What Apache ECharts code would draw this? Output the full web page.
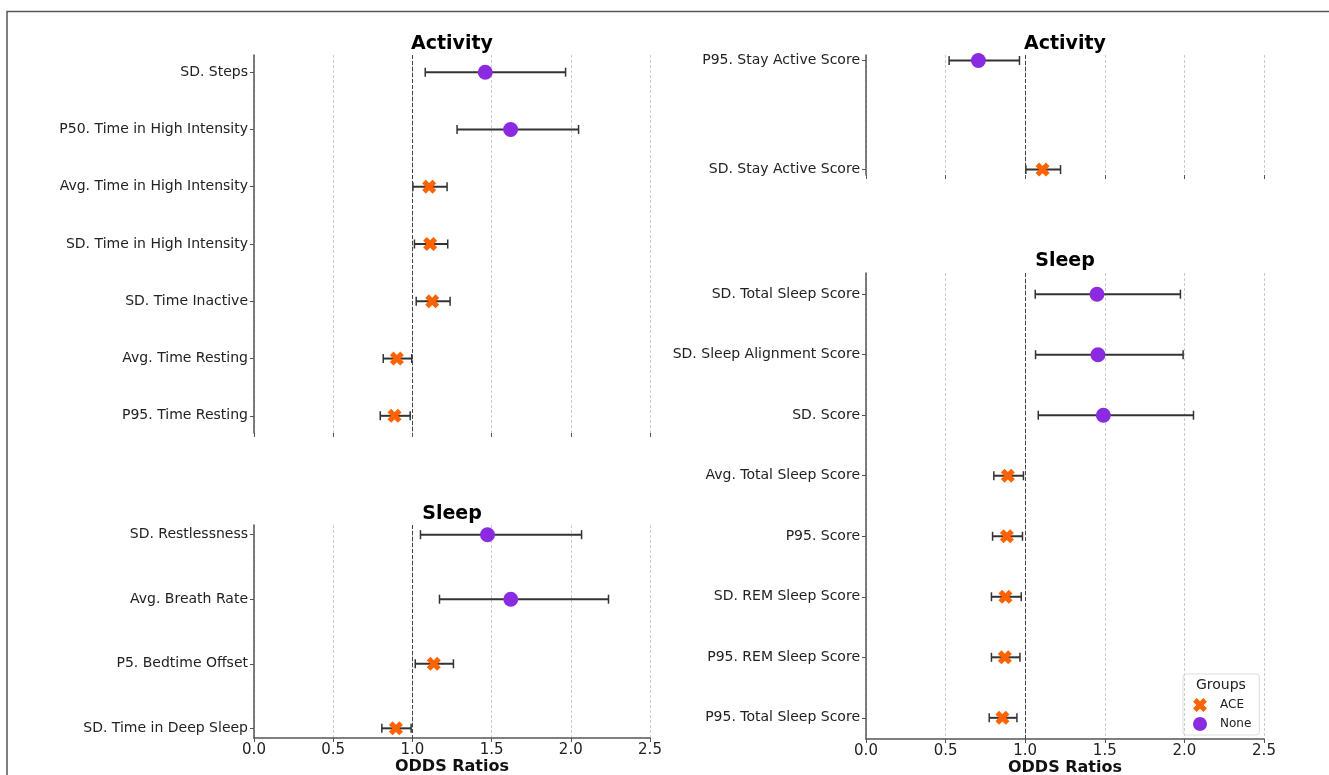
<!DOCTYPE html>
<html>
<head>
<meta charset="utf-8">
<script src="https://cdn.jsdelivr.net/npm/echarts@6/dist/echarts.min.js"></script>
<style>
  html, body { margin: 0; padding: 0; background: #fff; }
  #chart { width: 1329px; height: 775px; }
</style>
</head>
<body>
<div id="chart"></div>
<script>
// left top: Activity
const actLeftNames = ['SD. Steps', 'P50. Time in High Intensity', 'Avg. Time in High Intensity',
  'SD. Time in High Intensity', 'SD. Time Inactive', 'Avg. Time Resting', 'P95. Time Resting'];
const actLeftGroup = ['None', 'None', 'ACE', 'ACE', 'ACE', 'ACE', 'ACE'];
const actLeftOR = [1.46, 1.62, 1.106, 1.112, 1.125, 0.902, 0.887];
const actLeftLo = [1.081, 1.282, 1.003, 1.013, 1.024, 0.816, 0.797];
const actLeftHi = [1.967, 2.049, 1.219, 1.223, 1.238, 0.996, 0.986];

// left bottom: Sleep
const sleepLeftNames = ['SD. Restlessness', 'Avg. Breath Rate', 'P5. Bedtime Offset', 'SD. Time in Deep Sleep'];
const sleepLeftGroup = ['None', 'None', 'ACE', 'ACE'];
const sleepLeftOR = [1.474, 1.621, 1.135, 0.896];
const sleepLeftLo = [1.051, 1.171, 1.018, 0.807];
const sleepLeftHi = [2.068, 2.238, 1.259, 0.992];

// right top: Activity
const actRightNames = ['P95. Stay Active Score', 'SD. Stay Active Score'];
const actRightGroup = ['None', 'ACE'];
const actRightOR = [0.706, 1.109];
const actRightLo = [0.522, 1.004];
const actRightHi = [0.964, 1.222];

// right bottom: Sleep
const sleepRightNames = ['SD. Total Sleep Score', 'SD. Sleep Alignment Score', 'SD. Score',
  'Avg. Total Sleep Score', 'P95. Score', 'SD. REM Sleep Score', 'P95. REM Sleep Score', 'P95. Total Sleep Score'];
const sleepRightGroup = ['None', 'None', 'None', 'ACE', 'ACE', 'ACE', 'ACE', 'ACE'];
const sleepRightOR = [1.451, 1.457, 1.491, 0.891, 0.885, 0.876, 0.872, 0.857];
const sleepRightLo = [1.063, 1.065, 1.082, 0.803, 0.795, 0.788, 0.788, 0.774];
const sleepRightHi = [1.975, 1.992, 2.057, 0.989, 0.983, 0.975, 0.967, 0.948];

const FONT = '"DejaVu Sans", sans-serif';
const ORANGE = '#ff6200';
const PURPLE = '#8a2be2';
// filled "X" marker like matplotlib's
const X_PATH = 'path://M0,2.6 L2.6,0 L5,2.4 L7.4,0 L10,2.6 L7.6,5 L10,7.4 L7.4,10 L5,7.6 L2.6,10 L0,7.4 L2.4,5 Z';

const panels = [
  { names: actLeftNames, group: actLeftGroup, or: actLeftOR, lo: actLeftLo, hi: actLeftHi,
    grid: { left: 254, top: 55, width: 396, height: 378 }, bottom: false },
  { names: sleepLeftNames, group: sleepLeftGroup, or: sleepLeftOR, lo: sleepLeftLo, hi: sleepLeftHi,
    grid: { left: 254, top: 525, width: 396, height: 213 }, bottom: true },
  { names: actRightNames, group: actRightGroup, or: actRightOR, lo: actRightLo, hi: actRightHi,
    grid: { left: 866, top: 55, width: 398, height: 120 }, bottom: false },
  { names: sleepRightNames, group: sleepRightGroup, or: sleepRightOR, lo: sleepRightLo, hi: sleepRightHi,
    grid: { left: 866, top: 273, width: 398, height: 466 }, bottom: true },
];

const grids = [];
const xAxes = [];
const yAxes = [];
const series = [];

panels.forEach((p, i) => {
  const n = p.names.length;
  const pad = (n - 1) * 0.05;
  const idx = p.names.map((_, k) => k);
  grids.push(Object.assign({ containLabel: false, outerBoundsMode: 'none' }, p.grid));
  xAxes.push({
    gridIndex: i,
    type: 'value',
    position: 'bottom',
    min: 0,
    max: 2.5,
    interval: 0.5,
    axisLine: { show: p.bottom, onZero: false, lineStyle: { color: '#555', width: 1.5 } },
    axisTick: { show: true, length: 4, lineStyle: { color: '#555' } },
    axisLabel: {
      show: p.bottom, fontFamily: FONT, fontSize: 15, color: '#222', margin: 5,
      formatter: (v) => v.toFixed(1),
    },
    splitLine: { show: true, lineStyle: { color: '#ccc', type: [3, 2], width: 1 } },
    name: p.bottom ? 'ODDS Ratios' : '',
    nameLocation: 'middle',
    nameMoveOverlap: false,
    nameGap: 21,
    nameTextStyle: { fontFamily: FONT, fontSize: 16, fontWeight: 'bold', color: '#111' },
  });
  yAxes.push({
    gridIndex: i,
    type: 'value',
    inverse: true,
    min: -pad,
    max: n - 1 + pad,
    axisLine: { show: true, onZero: false, lineStyle: { color: '#555', width: 1.5 } },
    axisTick: { show: true, length: 4, customValues: idx, lineStyle: { color: '#555' } },
    axisLabel: {
      customValues: idx, fontFamily: FONT, fontSize: 14, color: '#222', margin: 6,
      formatter: (v) => p.names[Math.round(v)] || '',
    },
    splitLine: { show: false },
  });

  series.push({
    type: 'custom',
    xAxisIndex: i,
    yAxisIndex: i,
    silent: true,
    z: 2,
    data: idx.map((k) => [p.lo[k], p.hi[k], k]),
    renderItem: (params, api) => {
      const a = api.coord([api.value(0), api.value(2)]);
      const b = api.coord([api.value(1), api.value(2)]);
      const cap = { stroke: '#333', lineWidth: 1.5 };
      return {
        type: 'group',
        children: [
          { type: 'line', shape: { x1: a[0], y1: a[1], x2: b[0], y2: b[1] }, style: { stroke: '#333', lineWidth: 2 } },
          { type: 'line', shape: { x1: a[0], y1: a[1] - 4.5, x2: a[0], y2: a[1] + 4.5 }, style: cap },
          { type: 'line', shape: { x1: b[0], y1: b[1] - 4.5, x2: b[0], y2: b[1] + 4.5 }, style: cap },
        ],
      };
    },
  });

  series.push({
    name: 'ACE',
    type: 'scatter',
    xAxisIndex: i,
    yAxisIndex: i,
    z: 3,
    symbol: X_PATH,
    symbolSize: 14,
    itemStyle: { color: ORANGE, opacity: 1 },
    data: idx.filter((k) => p.group[k] === 'ACE').map((k) => [p.or[k], k]),
    markLine: {
      silent: true,
      symbol: 'none',
      label: { show: false },
      lineStyle: { color: '#444', type: [4, 2], width: 1 },
      data: [{ xAxis: 1 }],
    },
  });
  series.push({
    name: 'None',
    type: 'scatter',
    xAxisIndex: i,
    yAxisIndex: i,
    z: 3,
    symbol: 'circle',
    symbolSize: 15,
    itemStyle: { color: PURPLE, opacity: 1 },
    data: idx.filter((k) => p.group[k] === 'None').map((k) => [p.or[k], k]),
  });
});

const titleStyle = { fontFamily: FONT, fontSize: 19, fontWeight: 'bold', color: '#000' };

const chart = echarts.init(document.getElementById('chart'));
chart.setOption({
  animation: false,
  backgroundColor: '#fff',
  title: [
    { text: 'Activity', left: 452, top: 35, textAlign: 'center', textStyle: titleStyle, padding: 0 },
    { text: 'Sleep', left: 452, top: 505, textAlign: 'center', textStyle: titleStyle, padding: 0 },
    { text: 'Activity', left: 1065, top: 35, textAlign: 'center', textStyle: titleStyle, padding: 0 },
    { text: 'Sleep', left: 1065, top: 252, textAlign: 'center', textStyle: titleStyle, padding: 0 },
  ],
  grid: grids,
  xAxis: xAxes,
  yAxis: yAxes,
  series: series,
  legend: {
    orient: 'vertical',
    left: 1183,
    top: 674,
    width: 74,
    padding: [24, 8, 4, 10],
    itemGap: 5,
    itemWidth: 14,
    itemHeight: 14,
    borderColor: '#ddd',
    borderWidth: 1,
    borderRadius: 3,
    textStyle: { fontFamily: FONT, fontSize: 12, color: '#222', padding: [0, 0, 0, 8] },
    data: [
      { name: 'ACE', icon: X_PATH },
      { name: 'None', icon: 'circle' },
    ],
  },
  graphic: [
    {
      type: 'text', left: 1196, top: 678,
      style: { text: 'Groups', font: '14px "DejaVu Sans", sans-serif', fill: '#222' },
    },
    {
      type: 'polyline', silent: true,
      shape: { points: [[7, 775], [7, 11.5], [1329, 11.5]] },
      style: { stroke: '#555', lineWidth: 1.5, fill: null },
    },
  ],
});
</script>
</body>
</html>
